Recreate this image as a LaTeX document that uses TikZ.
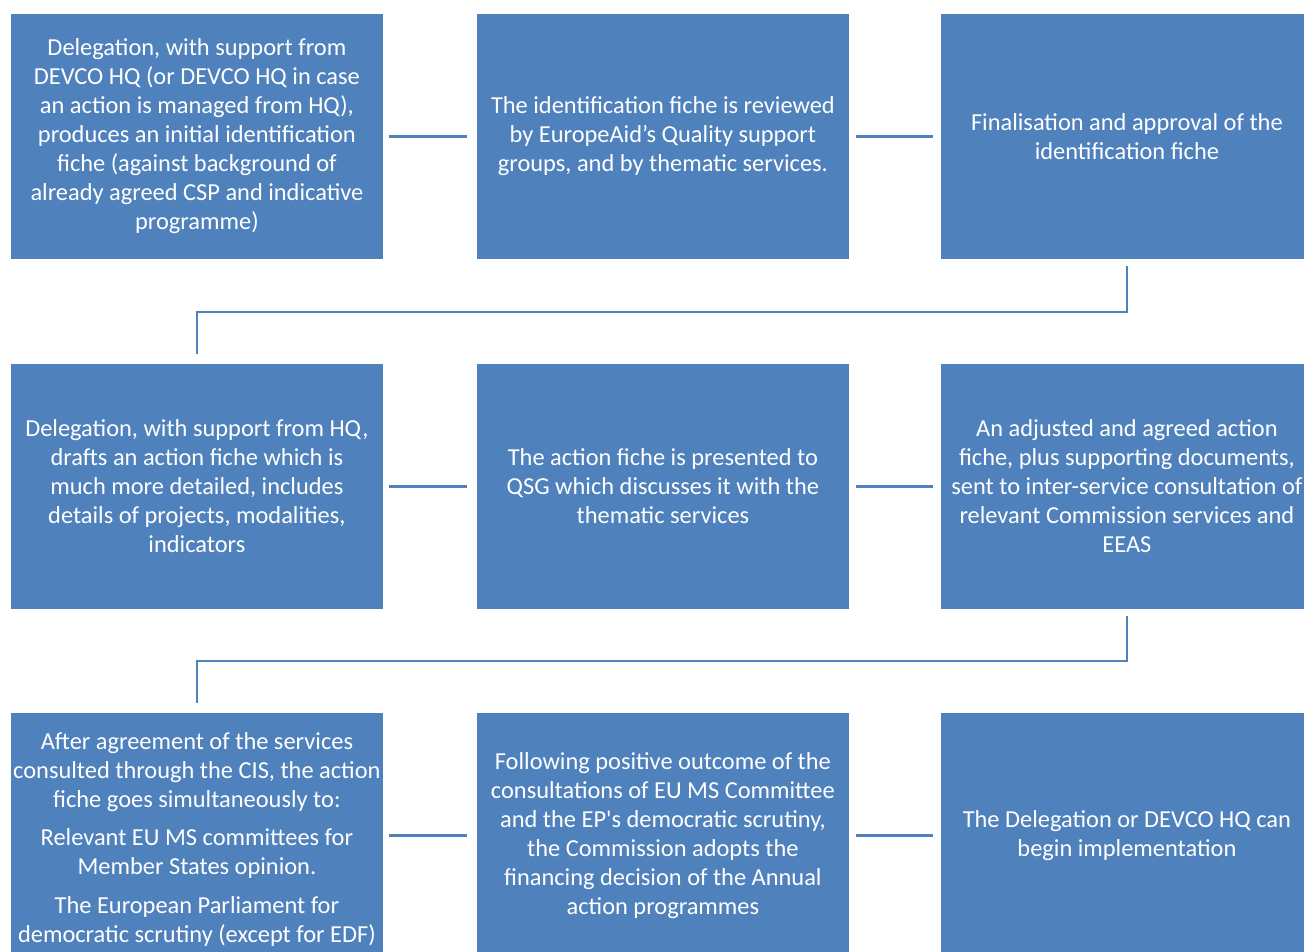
\documentclass[tikz,border=0pt]{standalone}
\usepackage{fontspec}
\setmainfont{Carlito}
\definecolor{boxblue}{RGB}{79,129,189}
\definecolor{lineblue}{RGB}{79,129,189}
% straight apostrophe, set as a glyph so the text mapping leaves it alone
\newcommand{\straightquote}{\XeTeXglyph\XeTeXcharglyph"27 }
\begin{document}
\begin{tikzpicture}[x=1pt,y=-1pt,
  stepbox/.style={fill=boxblue, draw=white, line width=0.8pt,
    minimum width=373pt, minimum height=246pt, anchor=north west,
    inner sep=0pt, align=center, text=white,
    font=\fontsize{24.4}{29}\selectfont},
  link/.style={draw=lineblue, line width=2.5pt}]
\useasboundingbox (0,0) rectangle (1304,951);
\clip (0,0) rectangle (1304,951);

% row 1
\node[stepbox] (b1) at (10,13) {Delegation, with support from\\DEVCO HQ (or DEVCO HQ in case\\an action is managed from HQ),\\produces an initial identification\\fiche (against background of\\already agreed CSP and indicative\\programme)};
\node[stepbox] (b2) at (476,13) {The identification fiche is reviewed\\by EuropeAid’s Quality support\\groups, and by thematic services.};
\node[stepbox] (b3) at (940,13) {Finalisation and approval of the\\identification fiche};

% row 2
\node[stepbox] (b4) at (10,363) {Delegation, with support from HQ,\\drafts an action fiche which is\\much more detailed, includes\\details of projects, modalities,\\indicators};
\node[stepbox] (b5) at (476,363) {The action fiche is presented to\\QSG which discusses it with the\\thematic services};
\node[stepbox] (b6) at (940,363) {An adjusted and agreed action\\fiche, plus supporting documents,\\sent to inter-service consultation of\\relevant Commission services and\\EEAS};

% row 3
\node[stepbox] (b7) at (10,712) {\raisebox{-5pt}[\height][\depth]{\begin{tabular}{@{}c@{}}After agreement of the services\\consulted through the CIS, the action\\fiche goes simultaneously to:\\[9pt]Relevant EU MS committees for\\Member States opinion.\\[10pt]The European Parliament for\\democratic scrutiny (except for EDF)\end{tabular}}};
\node[stepbox] (b8) at (476,712) {Following positive outcome of the\\consultations of EU MS Committee\\and the EP\straightquote s democratic scrutiny,\\the Commission adopts the\\financing decision of the Annual\\action programmes};
\node[stepbox] (b9) at (940,712) {The Delegation or DEVCO HQ can\\begin implementation};

% connectors within rows
\draw[link] ([xshift=5pt]b1.east) -- ([xshift=-9pt]b2.west);
\draw[link] ([xshift=6pt]b2.east) -- ([xshift=-7pt]b3.west);
\draw[link] ([xshift=5pt]b4.east) -- ([xshift=-9pt]b5.west);
\draw[link] ([xshift=6pt]b5.east) -- ([xshift=-7pt]b6.west);
\draw[link] ([xshift=5pt]b7.east) -- ([xshift=-9pt]b8.west);
\draw[link] ([xshift=6pt]b8.east) -- ([xshift=-7pt]b9.west);

% elbow connectors between rows
\draw[link] ([yshift=-6pt]b3.south) -- ++(0,46) -| ([yshift=9pt]b4.north);
\draw[link] ([yshift=-6pt]b6.south) -- ++(0,45) -| ([yshift=9pt]b7.north);
\end{tikzpicture}
\end{document}
